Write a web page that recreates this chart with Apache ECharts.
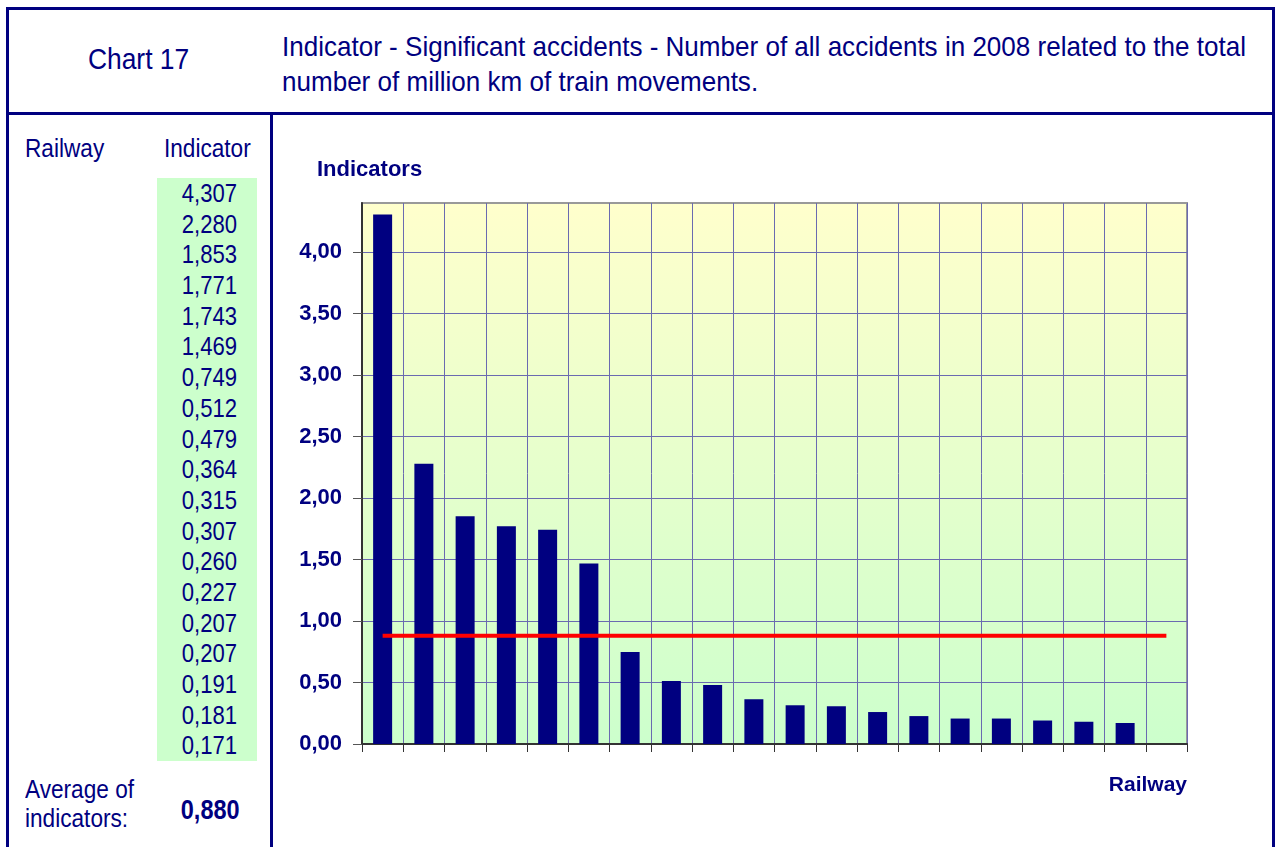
<!DOCTYPE html>
<html>
<head>
<meta charset="utf-8">
<script src="https://cdn.jsdelivr.net/npm/echarts@6/dist/echarts.min.js"></script>
<style>
  html, body { margin: 0; padding: 0; background: #fff; }
  body { width: 1275px; height: 847px; overflow: hidden; position: relative;
         font-family: "Liberation Sans", Arial, sans-serif; color: #000080; }
  .frame { position: absolute; left: 6px; top: 7px; width: 1263px; height: 900px;
           border: 3px solid #000080; }
  .hline { position: absolute; left: 6px; top: 112px; width: 1269px; height: 3px; background: #000080; }
  .vline { position: absolute; left: 270px; top: 112px; width: 3px; height: 760px; background: #000080; }
  .txt { position: absolute; white-space: nowrap; }
  .txt span, #vals span { display: inline-block; }
  .nl span { transform: scaleX(0.87); transform-origin: left center; }
  .nr span { transform: scaleX(0.87); transform-origin: right center; }
  #chartNo { left: 6px; width: 266px; top: 42px; text-align: center; font-size: 30px; }
  #chartNo span { transform: scaleX(0.88); transform-origin: center center; }
  #title { left: 282px; top: 29px; font-size: 28px; line-height: 35px; }
  #title span { transform: scaleX(0.93); transform-origin: left center; }
  #hRail { left: 25px; top: 133px; font-size: 26px; }
  #hInd { left: 140px; width: 111px; top: 133px; font-size: 26px; text-align: right; }
  #vals { position: absolute; left: 157px; top: 178px; width: 100px; background: #ccffcc; }
  #vals div { height: 30.7px; line-height: 30.7px; font-size: 26px; text-align: right; padding-right: 20px; }
  #vals span { transform: scaleX(0.85); transform-origin: right center; }
  #avgLbl { left: 25px; top: 775px; font-size: 26px; line-height: 29px; }
  #avgVal { left: 140px; width: 100px; top: 795px; font-size: 27px; font-weight: bold; text-align: right; }
  #app { position: absolute; left: 0; top: 0; width: 1275px; height: 847px; }
</style>
</head>
<body>
<div class="frame"></div>
<div class="hline"></div>
<div class="vline"></div>
<div class="txt" id="chartNo"><span>Chart 17</span></div>
<div class="txt" id="title"><span>Indicator - Significant accidents - Number of all accidents in 2008 related to the total</span><br><span>number of million km of train movements.</span></div>
<div class="txt nl" id="hRail"><span>Railway</span></div>
<div class="txt nr" id="hInd"><span>Indicator</span></div>
<div id="vals"></div>
<div class="txt nl" id="avgLbl"><span>Average of</span><br><span>indicators:</span></div>
<div class="txt nr" id="avgVal"><span id="avgText"></span></div>
<div id="app"></div>
<script>
var railways = ['R1', 'R2', 'R3', 'R4', 'R5', 'R6', 'R7', 'R8', 'R9', 'R10',
    'R11', 'R12', 'R13', 'R14', 'R15', 'R16', 'R17', 'R18', 'R19', ''];
var indicators = [4.307, 2.280, 1.853, 1.771, 1.743, 1.469, 0.749, 0.512, 0.479, 0.364,
    0.315, 0.307, 0.260, 0.227, 0.207, 0.207, 0.191, 0.181, 0.171];
var average = 0.880;
var averageLine = [0.88, 0.88, 0.88, 0.88, 0.88, 0.88, 0.88, 0.88, 0.88, 0.88,
    0.88, 0.88, 0.88, 0.88, 0.88, 0.88, 0.88, 0.88, 0.88, 0.88];
var yTicks = [0, 0.5, 1, 1.5, 2, 2.5, 3, 3.5, 4];

function fmt(v, d) {
    return v.toFixed(d).replace('.', ',');
}

window.onload = function() {
    // left table
    var box = document.getElementById('vals');
    for (var i = 0; i < indicators.length; i++) {
        var row = document.createElement('div');
        var sp = document.createElement('span');
        sp.textContent = fmt(indicators[i], 3);
        row.appendChild(sp);
        box.appendChild(row);
    }
    document.getElementById('avgText').textContent = fmt(average, 3);

    var myChart = echarts.init(document.getElementById('app'));
    var font = '"Liberation Sans", Arial, sans-serif';
    var gridColor = '#6a6ab0';
    var option = {
        animation: false,
        grid: {
            left: 362,
            top: 203,
            right: 88,
            bottom: 103,
            show: true,
            borderColor: '#999999',
            borderWidth: 2,
            backgroundColor: new echarts.graphic.LinearGradient(0, 0, 0, 1, [
                { offset: 0, color: '#ffffcc' },
                { offset: 1, color: '#ccffcc' }
            ])
        },
        xAxis: {
            type: 'category',
            data: railways,
            boundaryGap: true,
            name: 'Railway',
            nameLocation: 'end',
            nameGap: 0,
            nameTextStyle: {
                color: '#000080', fontFamily: font, fontWeight: 'bold', fontSize: 21,
                align: 'right', verticalAlign: 'top', padding: [31, 0, 0, 0]
            },
            axisLine: { lineStyle: { color: '#333333', width: 2 } },
            axisTick: { show: true, interval: 0, length: 8, lineStyle: { color: '#333333' } },
            axisLabel: { show: false },
            splitLine: { show: true, interval: 0, lineStyle: { color: gridColor, width: 1 } }
        },
        yAxis: {
            type: 'value',
            min: 0,
            max: 4.4,
            interval: 0.5,
            name: 'Indicators',
            nameLocation: 'end',
            nameGap: 22,
            nameTextStyle: {
                color: '#000080', fontFamily: font, fontWeight: 'bold', fontSize: 22,
                align: 'left', padding: [0, 0, 0, -45]
            },
            axisLine: { show: true, lineStyle: { color: '#333333', width: 2 } },
            axisTick: { show: true, length: 9, customValues: yTicks, lineStyle: { color: '#555555' } },
            axisLabel: {
                customValues: yTicks,
                margin: 20,
                color: '#000080', fontFamily: font, fontWeight: 'bold', fontSize: 22,
                formatter: function(v) { return fmt(v, 2); }
            },
            splitLine: { show: true, lineStyle: { color: gridColor, width: 1 } }
        },
        series: [{
            name: 'Indicator',
            type: 'bar',
            data: indicators,
            barWidth: 19,
            itemStyle: { color: '#000080' }
        }, {
            name: 'Average',
            type: 'line',
            data: averageLine,
            showSymbol: false,
            lineStyle: { color: '#ff0000', width: 4 },
            z: 5
        }]
    };
    myChart.setOption(option);
};
</script>
</body>
</html>
